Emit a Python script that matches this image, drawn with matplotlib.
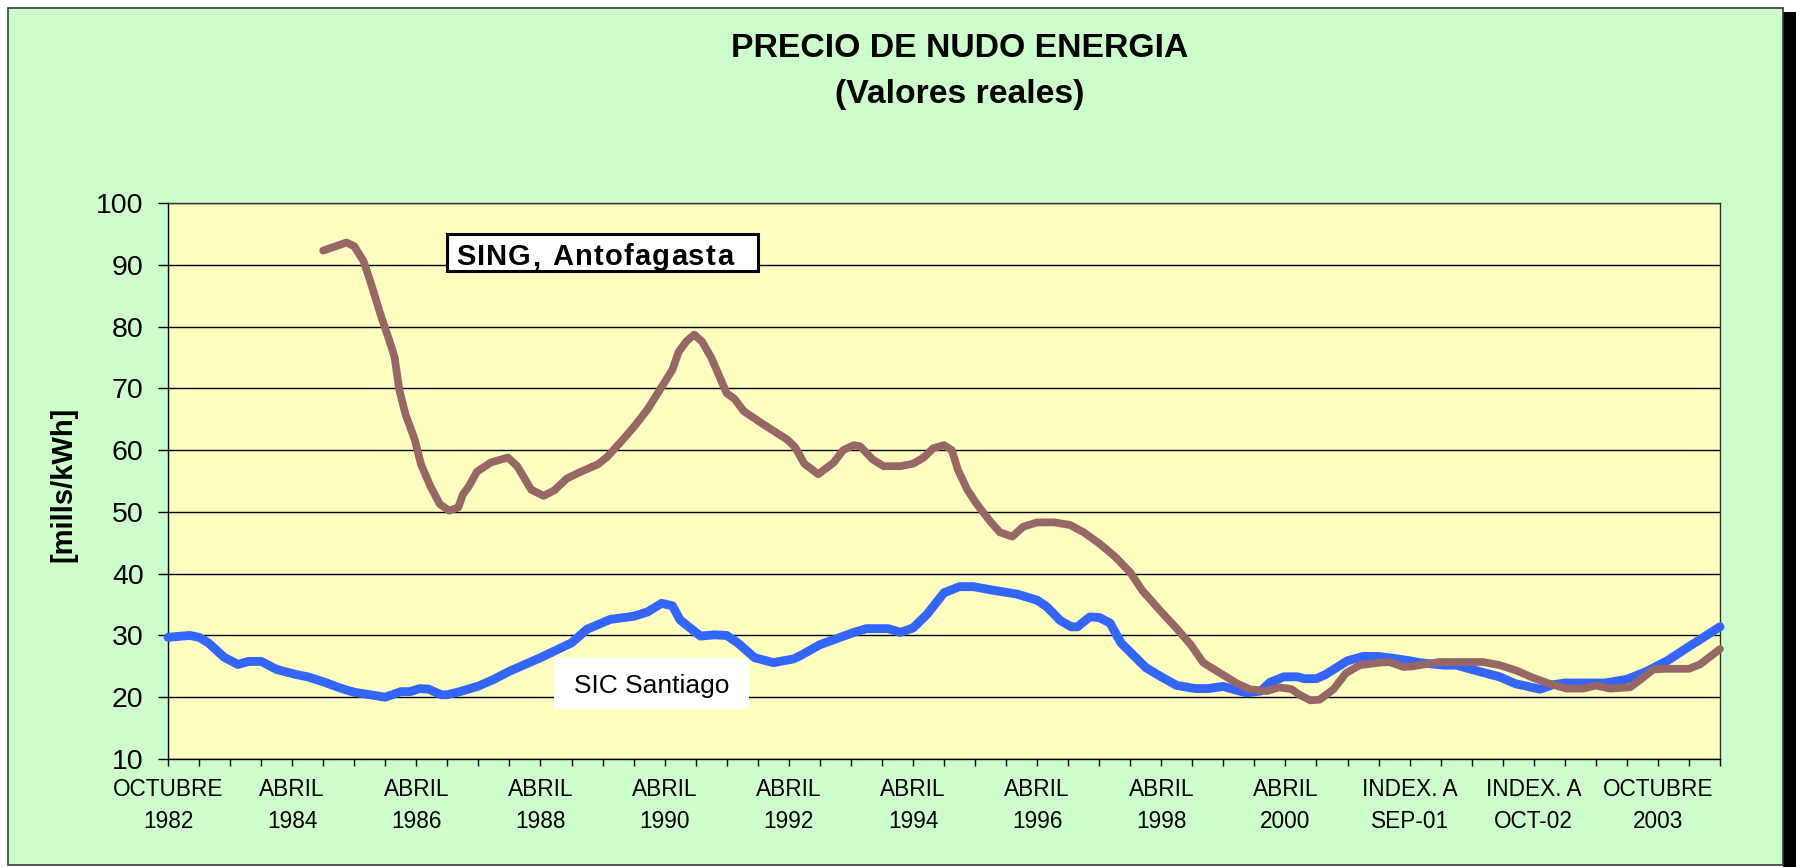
import matplotlib
matplotlib.use("Agg")
import matplotlib.pyplot as plt
from matplotlib.patches import Rectangle

plt.rcParams['font.family'] = ['Liberation Sans', 'DejaVu Sans']

# ---------------- data (x = period index on the category axis) ----------------
sic_x = [0, 0.7, 1.0, 1.3, 1.8, 2.25, 2.6, 3.0, 3.5, 4.1, 4.5, 5.0, 5.6, 6.0, 6.5, 7.0,
         7.5, 7.8, 8.1, 8.4, 8.8, 9.0, 9.4, 10.0, 10.5, 11.0, 12.0, 13.0, 13.5, 14.25,
         15.0, 15.45, 15.9, 16.25, 16.5, 17.15, 17.6, 18.0, 18.35, 18.9, 19.5, 20.15,
         20.4, 21.0, 21.55, 22.1, 22.5, 23.2, 23.6, 24.0, 24.45, 25.0, 25.5, 25.95,
         26.6, 27.35, 28.0, 28.3, 28.75, 29.1, 29.3, 29.7, 30.0, 30.35, 30.7, 31.1,
         31.5, 32.0, 32.5, 33.1, 33.5, 34.0, 34.3, 34.75, 35.2, 35.5, 35.95, 36.4,
         36.6, 37.0, 37.3, 38.0, 38.5, 39.0, 39.6, 40.0, 40.3, 41.1, 41.5, 42.0, 42.9,
         43.4, 44.2, 44.6, 45.0, 45.7, 46.3, 47.0, 47.6, 48.3, 49.0, 50.0]
sic_y = [29.7, 30.0, 29.7, 28.8, 26.5, 25.3, 25.8, 25.8, 24.5, 23.7, 23.3, 22.5, 21.4,
         20.8, 20.4, 20.0, 20.9, 20.9, 21.4, 21.3, 20.4, 20.4, 20.9, 21.8, 22.9, 24.2,
         26.4, 28.8, 31.0, 32.6, 33.1, 33.8, 35.2, 34.8, 32.5, 29.9, 30.1, 30.0, 28.8,
         26.4, 25.6, 26.2, 26.8, 28.5, 29.5, 30.5, 31.1, 31.1, 30.5, 31.2, 33.4, 36.9,
         37.9, 37.9, 37.3, 36.7, 35.7, 34.7, 32.4, 31.4, 31.4, 33.0, 32.9, 32.0, 28.8,
         26.8, 24.8, 23.3, 21.9, 21.4, 21.4, 21.75, 21.3, 20.7, 21.0, 22.4, 23.3, 23.3,
         23.0, 23.0, 23.7, 25.9, 26.6, 26.6, 26.2, 25.9, 25.6, 25.2, 25.2, 24.5, 23.3,
         22.2, 21.3, 22.0, 22.3, 22.3, 22.3, 22.9, 24.1, 25.9, 28.2, 31.4]

sing_x = [5.0, 5.35, 5.75, 6.0, 6.3, 6.55, 6.85, 7.2, 7.3, 7.45, 7.65, 7.95, 8.15, 8.45,
          8.75, 9.05, 9.35, 9.5, 9.7, 9.95, 10.4, 10.95, 11.25, 11.7, 12.1, 12.45,
          12.85, 13.3, 13.85, 14.15, 14.6, 15.0, 15.45, 15.85, 16.25, 16.45, 16.7,
          16.95, 17.2, 17.5, 17.75, 18.0, 18.25, 18.55, 19.2, 19.95, 20.2, 20.5, 20.95,
          21.45, 21.75, 22.1, 22.3, 22.7, 23.05, 23.6, 24.0, 24.35, 24.65, 25.0, 25.25,
          25.45, 25.75, 26.05, 26.5, 26.8, 27.2, 27.55, 28.0, 28.55, 29.05, 29.5, 30.0,
          30.5, 31.0, 31.4, 31.95, 32.5, 32.95, 33.35, 33.9, 34.45, 34.85, 35.4, 35.8,
          36.2, 36.45, 36.8, 37.1, 37.55, 37.95, 38.4, 39.05, 39.35, 39.8, 40.1, 40.95,
          42.35, 42.9, 43.45, 44.0, 44.5, 45.05, 45.6, 46.0, 46.45, 47.1, 47.4, 47.85,
          48.25, 49.0, 49.35, 50.0]
sing_y = [92.3, 92.9, 93.6, 93.0, 90.6, 86.8, 81.9, 76.7, 75.0, 69.8, 65.8, 61.7, 57.7,
          54.2, 51.3, 50.2, 50.7, 52.8, 54.2, 56.5, 58.0, 58.8, 57.4, 53.6, 52.6, 53.5,
          55.4, 56.5, 57.7, 58.9, 61.4, 63.7, 66.6, 69.8, 73.0, 75.9, 77.6, 78.7, 77.6,
          75.0, 72.1, 69.2, 68.3, 66.3, 64.1, 61.7, 60.5, 57.8, 56.1, 58.0, 60.0, 60.8,
          60.6, 58.5, 57.4, 57.4, 57.8, 58.8, 60.3, 60.8, 60.0, 56.8, 53.6, 51.3, 48.4,
          46.7, 46.0, 47.6, 48.3, 48.3, 47.9, 46.7, 44.9, 42.8, 40.2, 37.2, 34.1, 31.1,
          28.5, 25.6, 23.9, 22.2, 21.3, 21.0, 21.6, 21.3, 20.4, 19.5, 19.6, 21.3, 23.9,
          25.2, 25.6, 25.7, 24.9, 25.0, 25.7, 25.7, 25.2, 24.3, 23.1, 22.2, 21.4, 21.4,
          21.9, 21.4, 21.6, 22.7, 24.5, 24.6, 24.6, 25.3, 27.8]

tick_pos = [0, 4, 8, 12, 16, 20, 24, 28, 32, 36, 40, 44, 48]
tick_labels = ['OCTUBRE\n1982', 'ABRIL\n1984', 'ABRIL\n1986', 'ABRIL\n1988', 'ABRIL\n1990',
               'ABRIL\n1992', 'ABRIL\n1994', 'ABRIL\n1996', 'ABRIL\n1998', 'ABRIL\n2000',
               'INDEX. A\nSEP-01', 'INDEX. A\nOCT-02', 'OCTUBRE\n2003']
y_ticks = [10, 20, 30, 40, 50, 60, 70, 80, 90, 100]

title = 'PRECIO DE NUDO ENERGIA'
subtitle = '(Valores reales)'
ylabel = '[mills/kWh]'
label_sing = 'SING, Antofagasta'
label_sic = 'SIC Santiago'

# ---------------- figure ----------------
W, H = 1796, 867
fig = plt.figure(figsize=(W / 100, H / 100), dpi=100, facecolor='white')


def fx(px):
    return px / W


def fy(py):
    return 1 - py / H


# shadow + green chart area (behind the axes)
fig.patches.append(Rectangle((fx(1783), 0), fx(13), fy(12), transform=fig.transFigure,
                             facecolor='black', edgecolor='none', zorder=-2))
fig.patches.append(Rectangle((fx(8), fy(865)), fx(1783 - 8), (865 - 8) / H,
                             transform=fig.transFigure, facecolor='#CCFFCC',
                             edgecolor='#3a3a3a', linewidth=1.2, zorder=-1))

ax = fig.add_axes([fx(168), fy(759), fx(1720 - 168), (759 - 203) / H])
ax.set_facecolor('#FFFFC0')
ax.set_xlim(0, 50)
ax.set_ylim(10, 100)

ax.set_yticks(y_ticks)
ax.yaxis.grid(True, color='black', linewidth=1.0)
ax.set_axisbelow(True)

ax.set_xticks(tick_pos)
ax.set_xticklabels(tick_labels, fontsize=16.3, linespacing=1.45)
ax.set_xticks(range(0, 51), minor=True)
ax.tick_params(axis='x', which='both', length=5, width=1, direction='out', pad=9,
               color='black')
ax.tick_params(axis='y', length=7, width=1, direction='out', pad=10.5, labelsize=20.5)

for s in ax.spines.values():
    s.set_color('black')
    s.set_linewidth(1.0)
for s in ('top', 'right'):
    ax.spines[s].set_color('#333333')

ax.plot(sic_x, sic_y, color='#3366FF', linewidth=6.4, solid_capstyle='round',
        solid_joinstyle='round', clip_on=False, zorder=3)
ax.plot(sing_x, sing_y, color='#996666', linewidth=5.6, solid_capstyle='round',
        solid_joinstyle='round', clip_on=False, zorder=4)

# titles
fig.text(fx(960), fy(57), title, ha='center', va='baseline', fontsize=24.3,
         fontweight='bold')
fig.text(fx(960), fy(103), subtitle, ha='center', va='baseline', fontsize=24.3,
         fontweight='bold')
fig.text(fx(63), fy(484), ylabel, rotation=90, ha='center', va='center', fontsize=21,
         fontweight='bold')

# SING label box with letter spacing
fig.patches.append(Rectangle((fx(447), fy(271)), fx(758 - 447), (271 - 234) / H,
                             transform=fig.transFigure, facecolor='white',
                             edgecolor='black', linewidth=2.2, zorder=5))
renderer = fig.canvas.get_renderer()
xcur = 456.0
for ch in label_sing:
    t = fig.text(fx(xcur), fy(265), ch, ha='left', va='baseline', fontsize=21,
                 fontweight='bold', zorder=6)
    bb = t.get_window_extent(renderer=renderer)
    if ch == ' ':
        xcur += bb.width + 3
    else:
        xcur += bb.width + 1.2

# SIC label box
fig.patches.append(Rectangle((fx(554), fy(709)), fx(749 - 554), (709 - 658) / H,
                             transform=fig.transFigure, facecolor='white',
                             edgecolor='none', zorder=5))
fig.text(fx(652), fy(693), label_sic, ha='center', va='baseline', fontsize=19, zorder=6)

fig.savefig('out.png', dpi=100, facecolor=fig.get_facecolor())
